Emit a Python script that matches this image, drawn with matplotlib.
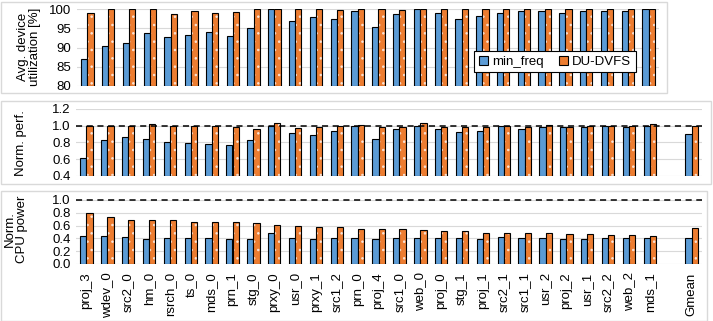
import matplotlib
matplotlib.use("Agg")
import matplotlib.pyplot as plt
from matplotlib.patches import Rectangle
import numpy as np

plt.rcParams['font.family'] = ['Liberation Sans', 'DejaVu Sans']
plt.rcParams['hatch.linewidth'] = 0.6

traces = ["proj_3", "wdev_0", "src2_0", "hm_0", "rsrch_0", "ts_0", "mds_0", "prn_1",
          "stg_0", "prxy_0", "usr_0", "prxy_1", "src1_2", "prn_0", "proj_4", "src1_0",
          "web_0", "proj_0", "stg_1", "proj_1", "src2_1", "src1_1", "usr_2", "proj_2",
          "usr_1", "src2_2", "web_2", "mds_1"]

util_min = [87.0, 90.5, 91.1, 93.8, 92.6, 93.3, 94.0, 92.9, 95.1, 100.0, 97.0, 97.8,
            97.4, 99.5, 95.4, 98.7, 100.0, 98.9, 97.3, 98.2, 99.0, 99.4, 99.5, 99.0,
            99.4, 99.6, 99.4, 100.0]
util_du = [98.9, 100.0, 100.0, 100.0, 98.7, 99.5, 99.0, 99.3, 100.0, 100.0, 100.0, 100.0,
           99.7, 100.0, 100.0, 99.8, 100.0, 100.0, 100.0, 100.0, 100.0, 100.0, 100.0, 100.0,
           100.0, 100.0, 100.0, 100.0]

perf_min = [0.61, 0.83, 0.86, 0.84, 0.80, 0.79, 0.78, 0.77, 0.83, 1.00, 0.91, 0.89,
            0.94, 1.00, 0.84, 0.96, 1.00, 0.96, 0.92, 0.94, 1.00, 0.96, 0.99, 0.99,
            0.99, 1.00, 0.99, 1.00, 0.90]
perf_du = [1.00, 1.00, 1.00, 1.02, 1.00, 1.00, 1.00, 0.98, 0.96, 1.03, 0.97, 0.99,
           1.00, 1.01, 0.98, 0.99, 1.03, 0.99, 0.99, 0.99, 1.00, 0.99, 1.01, 0.99,
           1.00, 1.00, 1.00, 1.02, 1.00]

power_min = [0.43, 0.43, 0.42, 0.39, 0.40, 0.40, 0.40, 0.39, 0.39, 0.48, 0.40, 0.39,
             0.40, 0.40, 0.39, 0.40, 0.41, 0.40, 0.41, 0.39, 0.42, 0.40, 0.40, 0.39,
             0.39, 0.40, 0.40, 0.40, 0.40]
power_du = [0.79, 0.73, 0.69, 0.68, 0.68, 0.66, 0.66, 0.65, 0.64, 0.61, 0.59, 0.58,
            0.58, 0.55, 0.55, 0.54, 0.53, 0.52, 0.51, 0.49, 0.49, 0.48, 0.48, 0.47,
            0.47, 0.46, 0.45, 0.44, 0.56]

labels_all = traces + ["Gmean"]
BLUE = "#5B9BD5"
ORANGE = "#ED7D31"
GRID = "#D9D9D9"
W, H = 713, 321


def rect(x0, y0, x1, y1):
    return [x0 / W, 1 - y1 / H, (x1 - x0) / W, (y1 - y0) / H]


def draw_bars(ax, x, a, b, base):
    w = 0.3
    ax.bar(x - w / 2, np.array(a) - base, w, bottom=base, color=BLUE,
           edgecolor="black", linewidth=0.8, zorder=3)
    ax.bar(x + w / 2, np.array(b) - base, w, bottom=base, color=ORANGE,
           edgecolor="#FCE4D6", hatch="..", linewidth=0, zorder=3)
    ax.bar(x + w / 2, np.array(b) - base, w, bottom=base, fill=False,
           edgecolor="black", linewidth=0.8, zorder=4)


def style(ax):
    for s in ax.spines.values():
        s.set_visible(False)
    ax.yaxis.grid(True, color=GRID, linewidth=0.8, zorder=0)
    ax.tick_params(axis="both", length=0, labelsize=9.5, pad=4)


fig = plt.figure(figsize=(W / 100, H / 100), dpi=100)

# panel frames
for x0, y0, x1, y1 in [(1, 2, 667, 93), (1, 101, 711, 184), (1, 191, 707, 321)]:
    fig.patches.append(Rectangle((x0 / W, 1 - y1 / H), (x1 - x0) / W, (y1 - y0) / H,
                                 transform=fig.transFigure, fill=False,
                                 edgecolor="#D9D9D9", linewidth=1.0))

# top panel
ax1 = fig.add_axes(rect(77, 9, 659, 86))
x1 = np.arange(len(traces))
draw_bars(ax1, x1, util_min, util_du, 80)
ax1.set_xlim(-0.5, len(traces) - 0.5)
ax1.set_ylim(80, 100)
ax1.set_yticks([80, 85, 90, 95, 100])
ax1.set_xticks([])
style(ax1)
hb = Rectangle((0, 0), 1, 1, facecolor=BLUE, edgecolor="black", linewidth=0.8)
ho = Rectangle((0, 0), 1, 1, facecolor=ORANGE, edgecolor="black", linewidth=0.8)
leg = ax1.legend([hb, ho], ["min_freq", "DU-DVFS"], ncol=2, loc="lower right",
                 bbox_to_anchor=(0.972, 0.09), fontsize=9.5, frameon=True,
                 fancybox=False, edgecolor="black", framealpha=1,
                 handlelength=0.7, handleheight=0.7, handletextpad=0.3,
                 columnspacing=1.2, borderpad=0.35)
leg.get_frame().set_linewidth(0.8)
leg.set_zorder(10)
fig.text(29 / W, 1 - 47 / H, "Avg. device\nutilization [%]", rotation=90,
         ha="center", va="center", fontsize=9.5, linespacing=1.05)

# middle panel
ax2 = fig.add_axes(rect(76, 109, 702, 176))
x2 = np.append(np.arange(len(traces)), len(traces) + 1)
draw_bars(ax2, x2, perf_min, perf_du, 0.4)
ax2.axhline(1.0, color="black", linestyle=(0, (4, 3)), linewidth=1.1, zorder=5)
ax2.set_xlim(-0.5, len(traces) + 1.5)
ax2.set_ylim(0.4, 1.2)
ax2.set_yticks([0.4, 0.6, 0.8, 1.0, 1.2])
ax2.set_yticklabels(["0.4", "0.6", "0.8", "1.0", "1.2"])
ax2.set_xticks([])
style(ax2)
fig.text(21 / W, 1 - 143 / H, "Norm. perf.", rotation=90,
         ha="center", va="center", fontsize=9.5)

# bottom panel
ax3 = fig.add_axes(rect(76, 200, 702, 264))
draw_bars(ax3, x2, power_min, power_du, 0.0)
ax3.axhline(1.0, color="black", linestyle=(0, (4, 3)), linewidth=1.1, zorder=5,
            clip_on=False)
ax3.set_xlim(-0.5, len(traces) + 1.5)
ax3.set_ylim(0.0, 1.0)
ax3.set_yticks([0.0, 0.2, 0.4, 0.6, 0.8, 1.0])
ax3.set_yticklabels(["0.0", "0.2", "0.4", "0.6", "0.8", "1.0"])
ax3.set_xticks(x2)
ax3.set_xticklabels(labels_all, rotation=90)
style(ax3)
ax3.tick_params(axis="x", pad=6)
fig.text(16 / W, 1 - 229 / H, "Norm.\nCPU power", rotation=90,
         ha="center", va="center", fontsize=9.5, linespacing=1.05)

fig.savefig("out.png", dpi=100)
